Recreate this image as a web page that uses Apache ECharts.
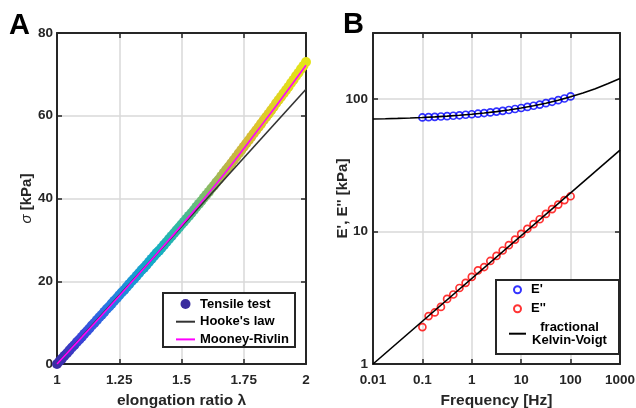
<!DOCTYPE html>
<html>
<head>
<meta charset="utf-8">
<script src="https://cdn.jsdelivr.net/npm/echarts@6/dist/echarts.min.js"></script>
<style>
html,body{margin:0;padding:0;background:#fff;}
#c{width:636px;height:408px;}
</style>
</head>
<body>
<div id="c"></div>
<script>
// ---------- Panel A data ----------
const lambda = [1.00,1.01,1.02,1.03,1.04,1.05,1.06,1.07,1.08,1.09,1.10,1.11,1.12,1.13,1.14,1.15,1.16,1.17,1.18,1.19,1.20,1.21,1.22,1.23,1.24,1.25,1.26,1.27,1.28,1.29,1.30,1.31,1.32,1.33,1.34,1.35,1.36,1.37,1.38,1.39,1.40,1.41,1.42,1.43,1.44,1.45,1.46,1.47,1.48,1.49,1.50,1.51,1.52,1.53,1.54,1.55,1.56,1.57,1.58,1.59,1.60,1.61,1.62,1.63,1.64,1.65,1.66,1.67,1.68,1.69,1.70,1.71,1.72,1.73,1.74,1.75,1.76,1.77,1.78,1.79,1.80,1.81,1.82,1.83,1.84,1.85,1.86,1.87,1.88,1.89,1.90,1.91,1.92,1.93,1.94,1.95,1.96,1.97,1.98,1.99,2.00];
const sigmaTensile = [0,0.66,1.3,2.0,2.6,3.3,4.0,4.6,5.3,5.9,6.6,7.3,7.9,8.6,9.3,9.9,10.6,11.3,11.9,12.6,13.3,13.9,14.6,15.3,15.9,16.6,17.3,17.9,18.6,19.3,20.0,20.6,21.3,22.0,22.7,23.3,24.0,24.7,25.4,26.1,26.8,27.4,28.1,28.8,29.5,30.2,30.9,31.6,32.3,33.0,33.7,34.4,35.1,35.8,36.5,37.2,38.0,38.7,39.4,40.2,40.9,41.6,42.4,43.1,43.9,44.6,45.4,46.2,47.0,47.7,48.5,49.3,50.1,50.9,51.7,52.5,53.3,54.1,54.9,55.7,56.5,57.3,58.1,58.9,59.7,60.5,61.3,62.1,63.0,63.8,64.6,65.4,66.2,67.0,67.9,68.7,69.6,70.4,71.3,72.1,73.0];
const hookeLambda = [1, 2];
const hookeSigma = [0, 66.4];
const mrLambda = [1.0,1.1,1.2,1.3,1.4,1.5,1.6,1.7,1.8,1.9,2.0];
const mrSigma = [0,6.5,13.1,19.8,26.6,33.5,40.6,48.1,56.0,64.0,72.2];
const aXTicks = ['1','1.25','1.5','1.75','2'];
const aYTicks = ['0','20','40','60','80'];

// ---------- Panel B data ----------
const freq = [0.1,0.1334,0.1778,0.2371,0.3162,0.4217,0.5623,0.7499,1,1.334,1.778,2.371,3.162,4.217,5.623,7.499,10,13.34,17.78,23.71,31.62,42.17,56.23,74.99,100];
const Estorage = [72.8,73.2,73.6,74.0,74.5,75.0,75.6,76.3,77.0,77.7,78.6,79.5,80.6,81.7,82.9,84.3,85.8,87.4,89.2,91.1,93.3,95.6,98.3,101.2,105.0];
const Eloss = [1.9,2.3,2.45,2.7,3.1,3.35,3.75,4.1,4.55,5.1,5.4,6.0,6.55,7.2,7.9,8.7,9.6,10.5,11.4,12.4,13.6,14.8,16.0,17.3,18.5];
const fitFreq = [0.01,0.01778,0.03162,0.05623,0.1,0.1778,0.3162,0.5623,1,1.778,3.162,5.623,10,17.78,31.62,56.23,100,177.8,316.2,562.3,1000];
const fitEstorage = [70.8,71.17,71.61,72.14,72.79,73.56,74.49,75.62,76.97,78.6,80.56,82.92,85.76,89.18,93.32,98.29,104.26,111.46,120.14,130.58,143.18];
const fitLossFreq = [0.01, 1000];
const fitEloss = [1, 41.2];
const bXTicks = ['0.01','0.1','1','10','100','1000'];
const bYTicks = ['1','10','100'];

const zip = (a, b) => a.map((v, i) => [v, b[i]]);
const FONT = "'Liberation Sans', Arial, Helvetica, sans-serif";
const AX = '#262626';
const GRID = '#d9d9d9';

function fmtLog(list){ return v => { const s = list.find(t => Math.abs(parseFloat(t) - v) / v < 1e-6); return s || ''; }; }

const labelStyle = {color: AX, fontSize: 13.5, fontWeight: 'bold', fontFamily: FONT};

function mainX(grid, opts){
  return Object.assign({
    gridIndex: grid, position: 'bottom',
    axisLine: {show: true, onZero: false, lineStyle: {color: AX, width: 2}},
    axisTick: {show: true, inside: true, length: 5, lineStyle: {color: AX, width: 1.5}},
    splitLine: {show: true, lineStyle: {color: GRID, width: 1.5}},
    nameLocation: 'middle', nameGap: 29,
    nameTextStyle: {color: AX, fontSize: 15.5, fontWeight: 'bold', fontFamily: FONT}
  }, opts);
}
function sideAxis(grid, pos, opts){
  return Object.assign({
    gridIndex: grid, position: pos,
    axisLine: {show: true, onZero: false, lineStyle: {color: AX, width: 2}},
    axisTick: {show: true, inside: true, length: 5, lineStyle: {color: AX, width: 1.5}},
    axisLabel: {show: false},
    splitLine: {show: false}
  }, opts);
}
const noSym = {opacity: 0};

const option = {
  animation: false,
  backgroundColor: '#fff',
  grid: [
    {left: 57, top: 33, width: 249, height: 331, containLabel: false, outerBoundsMode: 'none'},
    {left: 373, top: 33, width: 247, height: 331, containLabel: false, outerBoundsMode: 'none'}
  ],
  xAxis: [
    mainX(0, {type: 'value', min: 1, max: 2, interval: 0.25, name: 'elongation ratio λ',
      axisLabel: Object.assign({margin: 9, formatter: v => aXTicks.find(t => Math.abs(parseFloat(t) - v) < 1e-9) || ''}, labelStyle)}),
    sideAxis(0, 'top', {type: 'value', min: 1, max: 2, interval: 0.25}),
    mainX(1, {type: 'log', logBase: 10, min: 0.01, max: 1000, name: 'Frequency [Hz]',
      axisLabel: Object.assign({margin: 9, formatter: fmtLog(bXTicks)}, labelStyle)}),
    sideAxis(1, 'top', {type: 'log', logBase: 10, min: 0.01, max: 1000})
  ],
  yAxis: [
    {
      gridIndex: 0, type: 'value', min: 0, max: 80, interval: 20, position: 'left',
      axisLine: {show: true, onZero: false, lineStyle: {color: AX, width: 2}},
      axisTick: {show: true, inside: true, length: 5, lineStyle: {color: AX, width: 1.5}},
      axisLabel: Object.assign({margin: 4, formatter: v => aYTicks.find(t => parseFloat(t) === v) || ''}, labelStyle),
      splitLine: {show: true, lineStyle: {color: GRID, width: 1.5}},
      name: '{i|σ} [kPa]', nameLocation: 'middle', nameRotate: 90, nameGap: 23, nameMoveOverlap: false,
      nameTextStyle: {color: AX, fontSize: 15, fontWeight: 'bold', fontFamily: FONT,
        rich: {i: {fontStyle: 'italic', fontSize: 15, fontWeight: 'normal', color: AX, fontFamily: FONT}}}
    },
    sideAxis(0, 'right', {type: 'value', min: 0, max: 80, interval: 20}),
    {
      gridIndex: 1, type: 'log', logBase: 10, min: 1, max: 316.2278, position: 'left',
      axisLine: {show: true, onZero: false, lineStyle: {color: AX, width: 2}},
      axisTick: {show: true, inside: true, length: 5, lineStyle: {color: AX, width: 1.5}},
      axisLabel: Object.assign({margin: 5, formatter: fmtLog(bYTicks)}, labelStyle),
      splitLine: {show: true, lineStyle: {color: GRID, width: 1.5}},
      name: "E', E'' [kPa]", nameLocation: 'middle', nameRotate: 90, nameGap: 23, nameMoveOverlap: false,
      nameTextStyle: {color: AX, fontSize: 15, fontWeight: 'bold', fontFamily: FONT}
    },
    sideAxis(1, 'right', {type: 'log', logBase: 10, min: 1, max: 316.2278})
  ],
  visualMap: [{
    type: 'continuous', show: false, seriesIndex: 0, dimension: 0, min: 1, max: 2,
    inRange: {color: ['#3a2ca4','#3a45d8','#2a72e4','#1c96d6','#12aec4','#36b9a0','#7cbd6c','#c0b446','#dcc030','#e0d620','#e4e41a']}
  }],
  legend: [
    {
      orient: 'vertical', left: 175, top: 297, padding: 0, itemGap: 3.7,
      itemWidth: 19, itemHeight: 10, z: 20,
      textStyle: {color: '#000', fontSize: 13, fontWeight: 'bold', fontFamily: FONT, lineHeight: 14},
      data: [
        {name: 'Tensile test', icon: 'circle'},
        {name: "Hooke's law", itemStyle: noSym},
        {name: 'Mooney-Rivlin', itemStyle: noSym}
      ]
    },
    {
      orient: 'vertical', left: 508, top: 282.7, padding: 0, itemGap: 5,
      itemWidth: 17, itemHeight: 7, z: 20,
      textStyle: {color: '#000', fontSize: 13, fontWeight: 'bold', fontFamily: FONT, lineHeight: 14,
        rich: {c: {width: 77, align: 'center', fontSize: 13, fontWeight: 'bold', fontFamily: FONT, lineHeight: 13, color: '#000'}}},
      formatter: n => n === 'fractional Kelvin-Voigt' ? '{c|fractional}\n{c|Kelvin-Voigt}' : n,
      data: [
        {name: "E'", icon: 'circle'},
        {name: "E''", icon: 'circle'},
        {name: 'fractional Kelvin-Voigt', itemStyle: noSym}
      ]
    }
  ],
  graphic: [
    {type: 'rect', z: 10, shape: {x: 163, y: 293, width: 132, height: 54},
      style: {fill: '#fff', stroke: AX, lineWidth: 2}},
    {type: 'rect', z: 10, shape: {x: 496, y: 280, width: 123, height: 74},
      style: {fill: '#fff', stroke: AX, lineWidth: 2}},
    {type: 'text', z: 10, left: 9, top: 11, style: {text: 'A', fill: '#000', font: 'bold 29px ' + FONT}},
    {type: 'text', z: 10, left: 343, top: 10, style: {text: 'B', fill: '#000', font: 'bold 29px ' + FONT}}
  ],
  series: [
    {
      name: 'Tensile test', type: 'scatter', xAxisIndex: 0, yAxisIndex: 0,
      symbol: 'circle', symbolSize: 10, clip: false,
      itemStyle: {color: '#3a2c9e', opacity: 1},
      data: zip(lambda, sigmaTensile), z: 2
    },
    {
      name: "Hooke's law", type: 'line', xAxisIndex: 0, yAxisIndex: 0,
      symbol: 'none', lineStyle: {color: '#333333', width: 1.6}, itemStyle: {color: '#333333'},
      data: zip(hookeLambda, hookeSigma), z: 3
    },
    {
      name: 'Mooney-Rivlin', type: 'line', xAxisIndex: 0, yAxisIndex: 0,
      symbol: 'none', smooth: true, lineStyle: {color: '#ff00ff', width: 1.6}, itemStyle: {color: '#ff00ff'},
      data: zip(mrLambda, mrSigma), z: 4
    },
    {
      name: "E'", type: 'scatter', xAxisIndex: 2, yAxisIndex: 2,
      symbol: 'circle', symbolSize: 7,
      itemStyle: {color: 'rgba(255,255,255,0)', borderColor: '#0000ff', borderWidth: 1.7},
      data: zip(freq, Estorage), z: 2
    },
    {
      name: "E''", type: 'scatter', xAxisIndex: 2, yAxisIndex: 2,
      symbol: 'circle', symbolSize: 7,
      itemStyle: {color: 'rgba(255,255,255,0)', borderColor: '#ff0000', borderWidth: 1.7},
      data: zip(freq, Eloss), z: 2
    },
    {
      name: 'fractional Kelvin-Voigt', type: 'line', xAxisIndex: 2, yAxisIndex: 2,
      symbol: 'none', lineStyle: {color: '#000', width: 1.6}, itemStyle: {color: '#000'},
      data: zip(fitFreq, fitEstorage), z: 3
    },
    {
      name: 'fractional Kelvin-Voigt', type: 'line', xAxisIndex: 2, yAxisIndex: 2,
      symbol: 'none', lineStyle: {color: '#000', width: 1.6}, itemStyle: {color: '#000'},
      data: zip(fitLossFreq, fitEloss), z: 3
    }
  ]
};

const chart = echarts.init(document.getElementById('c'), null, {renderer: 'canvas'});
chart.setOption(option);
</script>
</body>
</html>
